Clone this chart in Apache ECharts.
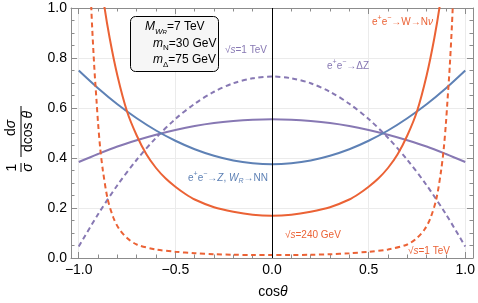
<!DOCTYPE html>
<html><head><meta charset="utf-8">
<script src="https://cdn.jsdelivr.net/npm/echarts@6/dist/echarts.min.js"></script>
<style>html,body{margin:0;padding:0;background:#fff}#c{width:478px;height:303px}</style>
</head><body><div id="c"></div>
<script>
// ---- data ----
const cosT = [-1,-0.9,-0.8,-0.7,-0.6,-0.5,-0.4,-0.3,-0.2,-0.1,0,0.1,0.2,0.3,0.4,0.5,0.6,0.7,0.8,0.9,1];
const nnBlue = [0.750,0.679,0.615,0.559,0.510,0.469,0.435,0.409,0.390,0.379,0.375,0.379,0.390,0.409,0.435,0.469,0.510,0.559,0.615,0.679,0.750];
const dzSolid = [0.384,0.416,0.446,0.471,0.493,0.512,0.528,0.540,0.548,0.553,0.555,0.553,0.548,0.540,0.528,0.512,0.493,0.471,0.446,0.416,0.384];
const dzDashed = [0.046,0.175,0.291,0.393,0.481,0.556,0.617,0.665,0.699,0.719,0.726,0.719,0.699,0.665,0.617,0.556,0.481,0.393,0.291,0.175,0.046];
const wn240X = [-0.9,-0.87,-0.84,-0.8,-0.75,-0.7,-0.65,-0.6,-0.55,-0.5,-0.45,-0.4,-0.3,-0.2,-0.1,0,0.1,0.2,0.3,0.4,0.45,0.5,0.55,0.6,0.65,0.7,0.75,0.8,0.84,0.87,0.9];
const wn240 = [1.2,1.02,0.88,0.73,0.586,0.49,0.415,0.36,0.318,0.285,0.257,0.234,0.203,0.185,0.173,0.169,0.173,0.185,0.203,0.234,0.257,0.285,0.318,0.36,0.415,0.49,0.586,0.73,0.88,1.02,1.2];
const wn1TeVX = [-0.95,-0.935,-0.92,-0.908,-0.9,-0.889,-0.875,-0.85,-0.82,-0.79,-0.75,-0.7,-0.6,-0.5,-0.4,-0.3,-0.2,-0.1,0,0.1,0.2,0.3,0.4,0.5,0.6,0.7,0.75,0.79,0.82,0.85,0.875,0.889,0.9,0.908,0.92,0.935,0.95];
const wn1TeV = [1.35,1.0,0.77,0.63,0.54,0.44,0.35,0.235,0.16,0.115,0.08,0.054,0.034,0.025,0.019,0.015,0.013,0.012,0.012,0.012,0.013,0.015,0.019,0.025,0.034,0.054,0.08,0.115,0.16,0.235,0.35,0.44,0.54,0.63,0.77,1.0,1.35];
const xMajorTicks = [-1,-0.5,0,0.5,1];
const xMinorTicks = [-0.9,-0.8,-0.7,-0.6,-0.4,-0.3,-0.2,-0.1,0.1,0.2,0.3,0.4,0.6,0.7,0.8,0.9];

const FF = '"Liberation Sans", "DejaVu Sans", sans-serif';
const RED = '#EB6235', BLUE = '#5E81B5', PURPLE = '#8778B3';
const FRAME = '#8c8c8c';
const pairs = (xs, ys) => xs.map((x, i) => [x, ys[i]]);
const fmt = v => v.toFixed(1).replace('-', '\u2212');

function xAx(pos, ticks, len, showLine, showLabel, split) {
  return {
    type: 'value', min: -1.04, max: 1.04, position: pos,
    axisLine: {show: showLine, onZero: false, lineStyle: {color: FRAME, width: 1}},
    axisTick: {show: true, inside: true, length: len, customValues: ticks, lineStyle: {color: FRAME}},
    axisLabel: {show: showLabel, customValues: ticks, formatter: fmt, color: '#000', fontSize: 14, fontFamily: FF, margin: 5},
    splitLine: {show: split, lineStyle: {color: '#ebebeb', width: 1}}
  };
}
function yAx(pos, showLabel, split) {
  return {
    type: 'value', min: 0, max: 1, interval: 0.2, position: pos,
    axisLine: {show: true, onZero: false, lineStyle: {color: FRAME, width: 1}},
    axisTick: {show: true, inside: true, length: 6, lineStyle: {color: FRAME}},
    minorTick: {show: true, splitNumber: 4, length: 3.5, lineStyle: {color: FRAME}},
    axisLabel: {show: showLabel, formatter: fmt, color: '#000', fontSize: 14, fontFamily: FF, margin: 4},
    splitLine: {show: split, lineStyle: {color: '#ebebeb', width: 1}}
  };
}
function line(data, color, dashed) {
  return {
    type: 'line', data: data, showSymbol: false, smooth: 0.3,
    xAxisIndex: 0, yAxisIndex: 0, clip: true, silent: true,
    lineStyle: {color: color, width: 2, type: dashed ? [5, 3.5] : 'solid'}
  };
}
const rich10 = (c) => ({
  t: {fontSize: 10, fontFamily: FF, fill: c, lineHeight: 14},
  i: {fontSize: 10, fontFamily: FF, fill: c, fontStyle: 'italic', lineHeight: 14},
  p: {fontSize: 7, fontFamily: FF, fill: c, verticalAlign: 'top', lineHeight: 8},
  b: {fontSize: 7, fontFamily: FF, fill: c, fontStyle: 'italic', verticalAlign: 'bottom', lineHeight: 8}
});
function lab(x, y, text, c) {
  return {type: 'text', x: x, y: y, z: 100, style: {text: text, rich: rich10(c), fill: c, verticalAlign: 'middle', align: 'left'}};
}
const boxRich = {
  t: {fontSize: 12, fontFamily: FF, fill: '#000', lineHeight: 17},
  mi: {fontSize: 12, fontFamily: FF, fill: '#000', fontStyle: 'italic', lineHeight: 17},
  sb: {fontSize: 8, fontFamily: FF, fill: '#000', fontStyle: 'italic', verticalAlign: 'bottom', lineHeight: 12},
  ssb: {fontSize: 6, fontFamily: FF, fill: '#000', fontStyle: 'italic', verticalAlign: 'bottom', lineHeight: 6},
  sn: {fontSize: 8, fontFamily: FF, fill: '#000', verticalAlign: 'bottom', lineHeight: 11}
};
function boxLine(x, y, text) {
  return {type: 'text', x: x, y: y, z: 101, style: {text: text, rich: boxRich, verticalAlign: 'middle', align: 'left'}};
}
const yl = {fontFamily: FF, fontSize: 14, fill: '#000', align: 'center', verticalAlign: 'middle'};
const ital14 = {i: {fontFamily: FF, fontSize: 14, fontStyle: 'italic', fill: '#000'}, t: {fontFamily: FF, fontSize: 14, fill: '#000'}};

const chart = echarts.init(document.getElementById('c'), null, {renderer: 'canvas'});
const blueS = line(pairs(cosT, nnBlue), BLUE, false);
blueS.markLine = {silent: true, symbol: 'none', label: {show: false}, animation: false,
  lineStyle: {color: '#000', width: 1, type: 'solid'}, data: [{xAxis: 0}]};
chart.setOption({
  animation: false,
  grid: {left: 71, right: 3, top: 8, bottom: 45, containLabel: false},
  xAxis: [
    xAx('bottom', xMajorTicks, 6, true, true, true),
    xAx('bottom', xMinorTicks, 3.5, false, false, false),
    xAx('top', xMajorTicks, 6, true, false, false),
    xAx('top', xMinorTicks, 3.5, false, false, false)
  ],
  yAxis: [yAx('left', true, true), yAx('right', false, false)],
  series: [
    line(pairs(cosT, dzDashed), PURPLE, true),
    line(pairs(cosT, dzSolid), PURPLE, false),
    blueS,
    line(pairs(wn1TeVX, wn1TeV), RED, true),
    line(pairs(wn240X, wn240), RED, false)
  ],
  graphic: [
    {type: 'rect', z: 100, shape: {x: 130.5, y: 16.5, width: 88, height: 55, r: 5},
     style: {fill: '#f6f6f6', stroke: '#000', lineWidth: 1}},
    boxLine(145, 27, '{mi|M}{sb|W}{ssb|R}{t|=7 TeV}'),
    boxLine(153, 43.5, '{mi|m}{sn|N}{t|=30 GeV}'),
    boxLine(153, 60, '{mi|m}{sn|\u0394}{t|=75 GeV}'),
    lab(372, 22, '{t|e}{p|+}{t|e}{p|\u2212}{t|\u2192W\u2192N}{i|\u03bd}', RED),
    lab(327, 66, '{t|e}{p|+}{t|e}{p|\u2212}{t|\u2192\u0394Z}', PURPLE),
    lab(225, 50, '{t|\u221a}{i|s}{t|=1 TeV}', PURPLE),
    lab(188, 178, '{t|e}{p|+}{t|e}{p|\u2212}{t|\u2192}{i|Z}{t|, }{i|W}{b|R}{t|\u2192NN}', BLUE),
    lab(285, 235, '{t|\u221a}{i|s}{t|=240 GeV}', RED),
    lab(408, 251, '{t|\u221a}{i|s}{t|=1 TeV}', RED),
    {type: 'text', x: 273, y: 292, style: {text: '{t|cos}{i|\u03b8}', rich: ital14, align: 'center', verticalAlign: 'middle'}},
    {type: 'group', x: 21, y: 172, rotation: Math.PI / 2, children: [
      {type: 'text', x: 4.5, y: -8.5, style: Object.assign({text: '1'}, yl)},
      {type: 'line', shape: {x1: 0, y1: 0, x2: 9, y2: 0}, style: {stroke: '#000', lineWidth: 1}},
      {type: 'text', x: 4.5, y: 7, style: Object.assign({}, yl, {text: '\u03c3', fontStyle: 'italic'})},
      {type: 'line', shape: {x1: 15, y1: 0, x2: 66, y2: 0}, style: {stroke: '#000', lineWidth: 1}},
      {type: 'text', x: 44, y: -9.5, style: Object.assign({}, yl, {text: '{t|d}{i|\u03c3}', rich: ital14})},
      {type: 'text', x: 40.5, y: 7, style: Object.assign({}, yl, {text: '{t|dcos }{i|\u03b8}', rich: ital14})}
    ]}
  ]
});
</script></body></html>
